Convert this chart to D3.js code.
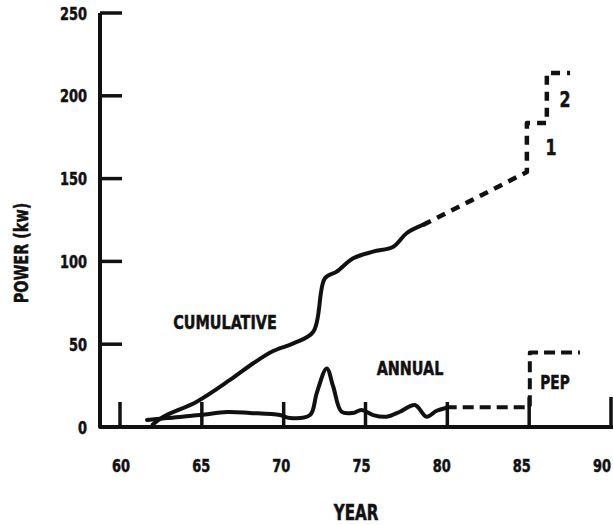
<!DOCTYPE html>
<html>
<head>
<meta charset="utf-8">
<script src="https://cdn.jsdelivr.net/npm/d3@7"></script>
<style>
  html, body { margin: 0; padding: 0; background: #fff; }
  svg text { font-family: "Liberation Sans Narrow", "DejaVu Sans Condensed", "Arial Narrow", sans-serif; font-weight: bold; fill: #111; stroke: #111; stroke-width: 0.5px; }
</style>
</head>
<body>
<svg id="chart" width="613" height="525"></svg>
<script>
// ---- data ----
const xTicks = [60, 65, 70, 75, 80, 85, 90];
const yTicks = [0, 50, 100, 150, 200, 250];

const cumulativeYears  = [62.0, 62.65, 64.69, 66.72, 68.14, 69.36, 70.59, 71.81, 72.52, 73.24, 74.25, 75.47, 76.70, 77.51, 78.5];
const cumulativeValues = [1.5,  6.2,   15.3,  28.4,  38.5,  45.9,  50.5,  57.5,  89.8,  93.8,  101.9, 105.9, 108.9, 117,   122];

const projectedYears  = [78.5, 81.5, 84.86, 84.86, 86.08, 86.08, 87.5];
const projectedValues = [122,  137,  154,   183.6, 183.6, 213.8, 213.8];

const annualYears  = [61.65, 62.87, 64.89, 66.54, 67.94, 69.77, 70.38, 71.61, 72.02, 72.63, 73.03, 73.54, 74.23, 74.76, 75.47, 76.29, 77.10, 78.02, 78.73, 79.35, 79.9];
const annualValues = [4.2,   5.4,   7.2,   9.1,   8.5,   7.2,   5.4,   7.2,   20.5,  35.4,  24.3,  9.2,   8.5,   10.3,  7.2,   6.2,   9.2,   13.3,  6.2,   9.8,   11.5];

const pepYears  = [79.9, 85.04, 85.04, 88.1];
const pepValues = [12,   12,    45,    45];

// ---- layout ----
const svg = d3.select("#chart");
const x = d3.scaleLinear().domain([60, 90]).range([120, 611]);
const xLabel = d3.scaleLinear().domain([60, 90]).range([121, 602]);
const y = d3.scaleLinear().domain([0, 250]).range([427, 13]);
const axisX0 = 100;
const ink = "#111";
const SQ = 0.8; // horizontal condensing of lettering

function ntext(parent, px, py, str, size, anchor, rot) {
  const g = parent.append("g")
    .attr("transform", `translate(${px},${py})` + (rot ? ` rotate(${rot})` : "") + ` scale(${SQ},1)`);
  return g.append("text").attr("text-anchor", anchor || "middle")
    .style("font-size", size + "px").text(str);
}

// frame (y axis + x axis)
svg.append("path")
  .attr("d", `M${axisX0},${y(250)} L${axisX0},${y(0)} L613,${y(0)}`)
  .attr("fill", "none").attr("stroke", ink).attr("stroke-width", 4)
  .attr("stroke-linejoin", "round");

// y axis ticks (pointing right) and labels
const gy = svg.append("g");
gy.selectAll("line").data(yTicks.filter(d => d > 0)).join("line")
  .attr("x1", axisX0).attr("x2", axisX0 + 22)
  .attr("y1", d => y(d)).attr("y2", d => y(d))
  .attr("stroke", ink).attr("stroke-width", 3.5);
yTicks.forEach(d => ntext(gy, axisX0 - 13, y(d) + 6.5, d, 18, "end"));

// x axis ticks (pointing up) and labels
const gx = svg.append("g");
gx.selectAll("line").data(xTicks).join("line")
  .attr("x1", d => x(d)).attr("x2", d => x(d))
  .attr("y1", y(0)).attr("y2", d => y(0) - (d >= 85 ? 30 : 25))
  .attr("stroke", ink).attr("stroke-width", 3.5);
xTicks.forEach(d => ntext(gx, xLabel(d), 472, d, 18, "middle"));

// axis titles
ntext(svg, 28, 253, "POWER (kw)", 20, "middle", -90);
ntext(svg, 356, 520, "YEAR", 21, "middle");

// lines
const smooth = d3.line().x(d => x(d[0])).y(d => y(d[1])).curve(d3.curveCatmullRom.alpha(0.5));
const straight = d3.line().x(d => x(d[0])).y(d => y(d[1]));

const cumulative = d3.zip(cumulativeYears, cumulativeValues);
const projected = d3.zip(projectedYears, projectedValues);
const annual = d3.zip(annualYears, annualValues);
const pep = d3.zip(pepYears, pepValues);

svg.append("path").attr("d", smooth(cumulative))
  .attr("fill", "none").attr("stroke", ink).attr("stroke-width", 4)
  .attr("stroke-linecap", "round").attr("stroke-linejoin", "round");

svg.append("path").attr("d", smooth(annual))
  .attr("fill", "none").attr("stroke", ink).attr("stroke-width", 4)
  .attr("stroke-linecap", "round").attr("stroke-linejoin", "round");

svg.append("path").attr("d", straight(projected))
  .attr("fill", "none").attr("stroke", ink).attr("stroke-width", 4.5)
  .attr("stroke-dasharray", "9,7").attr("stroke-linejoin", "round");

svg.append("path").attr("d", straight(pep))
  .attr("fill", "none").attr("stroke", ink).attr("stroke-width", 4)
  .attr("stroke-dasharray", "11,6").attr("stroke-linejoin", "round");

// annotations
ntext(svg, 225, 329, "CUMULATIVE", 20, "middle");
ntext(svg, 410, 375, "ANNUAL", 20, "middle");
ntext(svg, 555, 389, "PEP", 19, "middle");
ntext(svg, 551, 155, "1", 22, "middle");
ntext(svg, 565, 107, "2", 22, "middle");
</script>
</body>
</html>
